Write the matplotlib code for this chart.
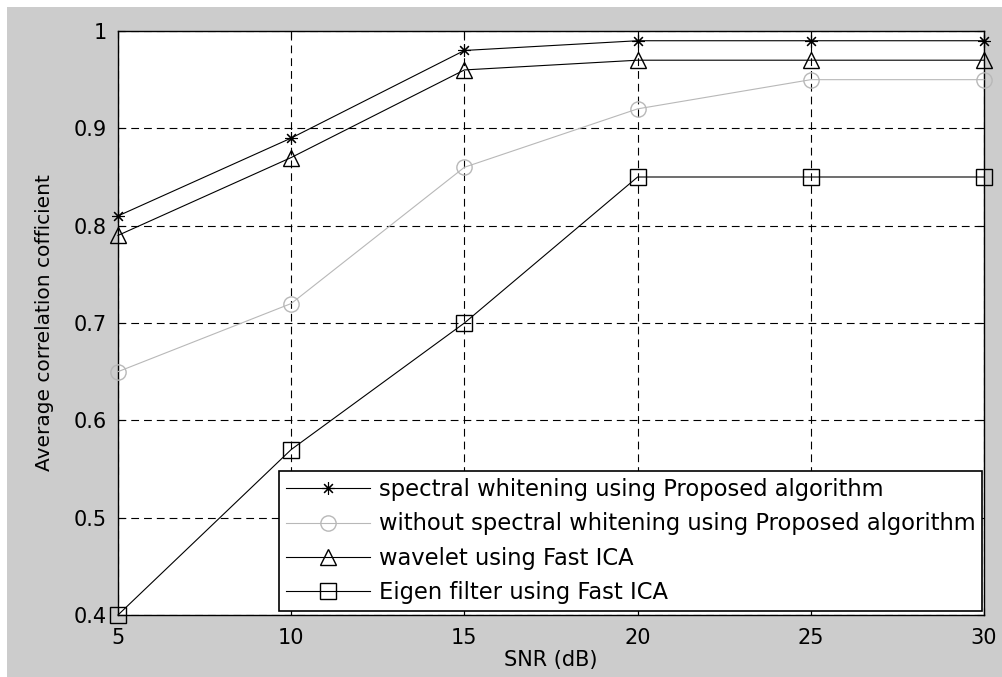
import numpy as np
import matplotlib
matplotlib.use("Agg")
import matplotlib.pyplot as plt
from matplotlib.patches import Rectangle

plt.rcParams["font.family"] = ["DejaVu Sans"]

# data
snr_db = [5, 10, 15, 20, 25, 30]
whitening_proposed = [0.81, 0.89, 0.98, 0.99, 0.99, 0.99]
no_whitening_proposed = [0.65, 0.72, 0.86, 0.92, 0.95, 0.95]
wavelet_fastica = [0.79, 0.87, 0.96, 0.97, 0.97, 0.97]
eigen_fastica = [0.40, 0.57, 0.70, 0.85, 0.85, 0.85]

labels = [
    "spectral whitening using Proposed algorithm",
    "without spectral whitening using Proposed algorithm",
    "wavelet using Fast ICA",
    "Eigen filter using Fast ICA",
]
x_ticks = [5, 10, 15, 20, 25, 30]
y_ticks = [0.4, 0.5, 0.6, 0.7, 0.8, 0.9, 1.0]
y_tick_labels = ["0.4", "0.5", "0.6", "0.7", "0.8", "0.9", "1"]

fig = plt.figure(figsize=(10.03, 6.77), dpi=100, facecolor="white")
# matlab-ish grey figure background with thin white strip top/left
fig.patches.append(Rectangle((7 / 1003, 0), 1, 1 - 7 / 677, transform=fig.transFigure,
                             facecolor="#cccccc", edgecolor="none", zorder=-10))

ax = fig.add_axes([118 / 1003, 62 / 677, 866 / 1003, 584 / 677])
ax.set_facecolor("white")

grey = "#b8b8b8"
common = dict(lw=0.8, markersize=11, markeredgewidth=1.0, clip_on=False, zorder=3)
ax.plot(snr_db, whitening_proposed, color="black", marker=(8, 2, 0),
        label=labels[0], **{**common, "markersize": 9, "markeredgewidth": 0.8})
ax.plot(snr_db, no_whitening_proposed, color=grey, marker="o",
        markerfacecolor="none", markeredgecolor=grey, label=labels[1], **common)
ax.plot(snr_db, wavelet_fastica, color="black", marker="^",
        markerfacecolor="none", label=labels[2], **common)
ax.plot(snr_db, eigen_fastica, color="black", marker="s",
        markerfacecolor="none", label=labels[3], **common)

ax.set_xlim(5, 30)
ax.set_ylim(0.4, 1.0)
ax.set_xticks(x_ticks)
ax.set_yticks(y_ticks)
ax.set_yticklabels(y_tick_labels)
ax.grid(True, color="black", lw=0.8, linestyle=(0, (7, 4.5)))
ax.set_axisbelow(True)

ax.tick_params(direction="in", length=5, width=0.8, top=True, right=True,
               labelsize=15, colors="black")
ax.tick_params(axis="y", pad=8)
ax.tick_params(axis="x", pad=9)
for s in ax.spines.values():
    s.set_linewidth(1.0)

ax.set_xlabel("SNR (dB)", fontsize=15, labelpad=2)
ax.set_ylabel("Average correlation cofficient", fontsize=14.5, labelpad=14)

leg = ax.legend(loc="lower right", bbox_to_anchor=(0.998, 0.007), borderaxespad=0,
                fontsize=16.3, handlelength=3.7, handletextpad=0.4, numpoints=1,
                labelspacing=0.5, borderpad=0.3, fancybox=False, framealpha=1,
                edgecolor="black")
leg.get_frame().set_linewidth(1.2)
leg.set_zorder(5)

fig.savefig("out.png", dpi=100, facecolor=fig.get_facecolor())
